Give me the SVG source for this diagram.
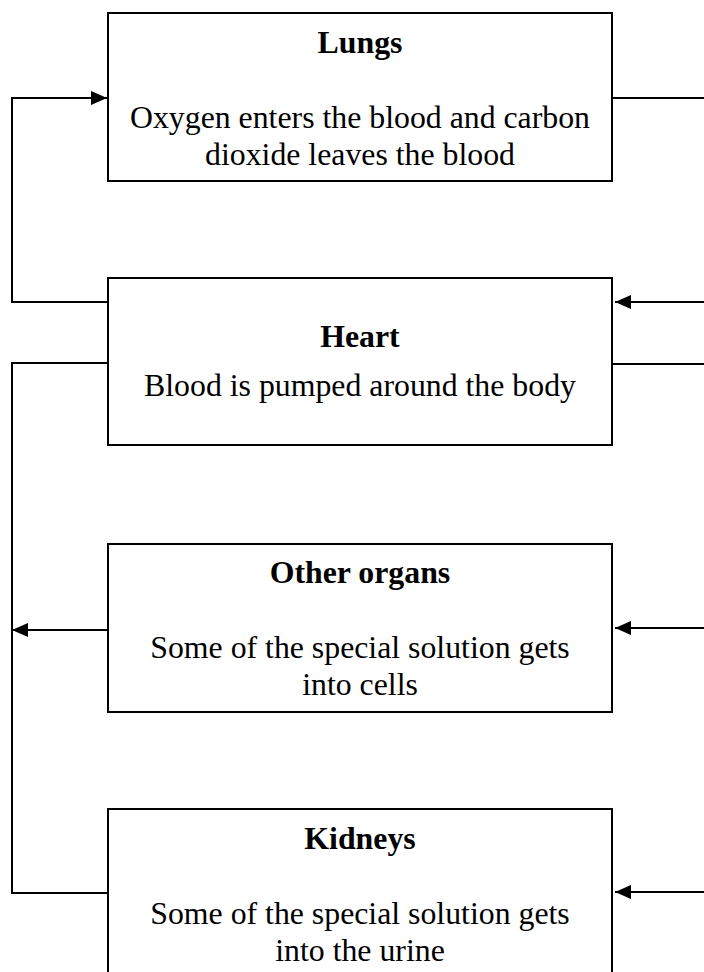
<svg xmlns="http://www.w3.org/2000/svg" width="704" height="972" viewBox="0 0 704 972">
<defs>
<style>
.box{fill:#fff;stroke:#000;stroke-width:2}
.t{font-family:"Liberation Serif","Times New Roman",serif;font-size:31.8px;text-anchor:middle;fill:#000}
.b{font-weight:bold}
.c{fill:none;stroke:#000;stroke-width:2}
</style>
<marker id="ah" viewBox="0 0 16 14" refX="16" refY="7" markerWidth="16" markerHeight="14" orient="auto" markerUnits="userSpaceOnUse">
<path d="M0,0 L16,7 L0,14 z" fill="#000"/>
</marker>
</defs>
<rect width="704" height="972" fill="#fff"/>
<g id="connectors">
<path class="c" d="M108,302 H12 V98 H107" marker-end="url(#ah)"/>
<path class="c" d="M108,363 H12 V893 H108"/>
<path class="c" d="M108,630 H12" marker-end="url(#ah)"/>
<path class="c" d="M612,98 H704"/>
<path class="c" d="M704,302 H615" marker-end="url(#ah)"/>
<path class="c" d="M612,364 H704"/>
<path class="c" d="M704,628 H615" marker-end="url(#ah)"/>
<path class="c" d="M704,892 H615" marker-end="url(#ah)"/>
</g>
<g id="lungs">
<rect class="box" x="108" y="13" width="504" height="168"/>
<text class="t b" x="360" y="53">Lungs</text>
<text class="t" x="360" y="128">Oxygen enters the blood and carbon</text>
<text class="t" x="360" y="165">dioxide leaves the blood</text>
</g>
<g id="heart">
<rect class="box" x="108" y="278" width="504" height="167"/>
<text class="t b" x="360" y="347">Heart</text>
<text class="t" x="360" y="396">Blood is pumped around the body</text>
</g>
<g id="other-organs">
<rect class="box" x="108" y="544" width="504" height="168"/>
<text class="t b" x="360" y="583">Other organs</text>
<text class="t" x="360" y="658">Some of the special solution gets</text>
<text class="t" x="360" y="695">into cells</text>
</g>
<g id="kidneys">
<rect class="box" x="108" y="809" width="504" height="180"/>
<text class="t b" x="360" y="849">Kidneys</text>
<text class="t" x="360" y="924">Some of the special solution gets</text>
<text class="t" x="360" y="961">into the urine</text>
</g>
</svg>
